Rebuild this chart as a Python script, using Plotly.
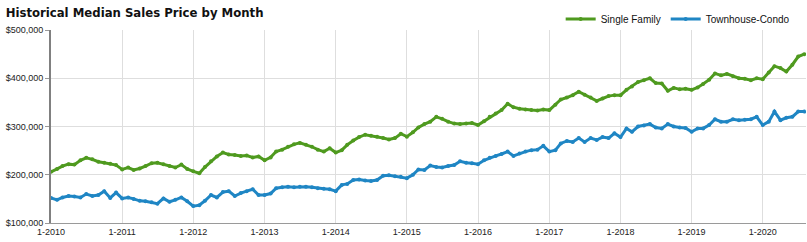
import pandas as pd
import plotly.graph_objects as go

months = pd.date_range("2010-01-01", periods=128, freq="MS")

single_family = [
    206, 212, 218, 222, 221, 230, 235, 232, 227, 225, 223, 220,   # 2010
    211, 215, 210, 213, 218, 224, 225, 222, 218, 215, 221, 212,   # 2011
    207, 203, 216, 228, 238, 246, 242, 241, 239, 240, 236, 238,   # 2012
    230, 236, 248, 252, 258, 263, 266, 262, 258, 252, 248, 255,   # 2013
    246, 251, 262, 271, 278, 283, 281, 279, 276, 273, 276, 285,   # 2014
    279, 288, 298, 305, 310, 320, 316, 310, 306, 305, 306, 307,   # 2015
    303, 311, 320, 327, 334, 347, 340, 337, 335, 334, 333, 335,   # 2016
    334, 345, 356, 360, 365, 372, 366, 360, 353, 358, 363, 365,   # 2017
    365, 376, 383, 392, 396, 400, 390, 389, 374, 380, 377, 378,   # 2018
    376, 381, 388, 397, 410, 406, 409, 404, 400, 399, 396, 400,   # 2019
    398, 412, 425, 421, 414, 428, 445, 450,                       # 2020
]
townhouse_condo = [
    152, 148, 153, 156, 155, 153, 160, 156, 158, 166, 152, 163,   # 2010
    151, 153, 150, 146, 145, 143, 140, 151, 144, 148, 153, 145,   # 2011
    135, 137, 146, 158, 153, 164, 166, 156, 162, 166, 170, 158,   # 2012
    158, 161, 172, 174, 175, 174, 175, 175, 174, 172, 171, 170,   # 2013
    166, 179, 181, 189, 190, 188, 187, 189, 198, 199, 197, 196,   # 2014
    193, 200, 211, 210, 219, 216, 215, 218, 220, 228, 225, 224,   # 2015
    222, 230, 235, 239, 243, 248, 239, 244, 248, 251, 252, 260,   # 2016
    248, 251, 265, 270, 268, 276, 268, 276, 272, 278, 276, 286,   # 2017
    278, 296, 289, 300, 302, 305, 298, 296, 305, 300, 298, 297,   # 2018
    289, 296, 296, 303, 315, 310, 310, 315, 313, 314, 315, 320,   # 2019
    303, 310, 331, 313, 318, 320, 331, 331,                       # 2020
]
tick_labels = ["1-2010", "1-2011", "1-2012", "1-2013", "1-2014", "1-2015",
               "1-2016", "1-2017", "1-2018", "1-2019", "1-2020"]
tick_dates = [f"{lbl.split('-')[1]}-01-01" for lbl in tick_labels]

series = [
    ("Single Family", single_family, "#4f9a1f"),
    ("Townhouse-Condo", townhouse_condo, "#1f86c4"),
]

fig = go.Figure()
for name, vals, color in series:
    fig.add_trace(go.Scatter(
        x=months, y=[v * 1000 for v in vals], name=name,
        mode="lines+markers",
        line=dict(color=color, width=3),
        marker=dict(color=color, size=4),
    ))

fig.update_layout(
    width=807, height=242,
    margin=dict(l=51, r=1, t=30, b=19),
    paper_bgcolor="white", plot_bgcolor="white",
    font=dict(family="Liberation Sans, Arial, sans-serif", size=9, color="#222"),
    title=dict(
        text="Historical Median Sales Price by Month",
        x=0.007, xanchor="left", xref="container",
        y=1 - 12 / 242, yanchor="middle", yref="container",
        font=dict(family="DejaVu Sans Condensed, Liberation Sans Narrow, sans-serif",
                  size=13, weight="bold", color="#111"),
    ),
    legend=dict(
        orientation="h", x=0.985, xanchor="right", y=1 + 11 / 193, yanchor="middle",
        font=dict(size=10, color="#111"), itemwidth=30,
        bgcolor="rgba(0,0,0,0)", traceorder="normal",
    ),
    showlegend=True,
)
fig.update_xaxes(
    range=["2010-01-01", "2020-08-10"],
    tickvals=tick_dates, ticktext=tick_labels,
    showgrid=True, gridcolor="#dedede", gridwidth=1,
    showline=True, linecolor="#9a9a9a", linewidth=1,
    ticks="", tickfont=dict(size=9), zeroline=False,
)
fig.update_yaxes(
    range=[100000, 500000], dtick=100000, tickformat="$,.0f",
    showgrid=True, gridcolor="#dedede", gridwidth=1,
    showline=True, linecolor="#808080", linewidth=2,
    ticks="outside", ticklen=4, tickcolor="#999", tickfont=dict(size=9),
    zeroline=False,
)

fig.write_html("out.html")
